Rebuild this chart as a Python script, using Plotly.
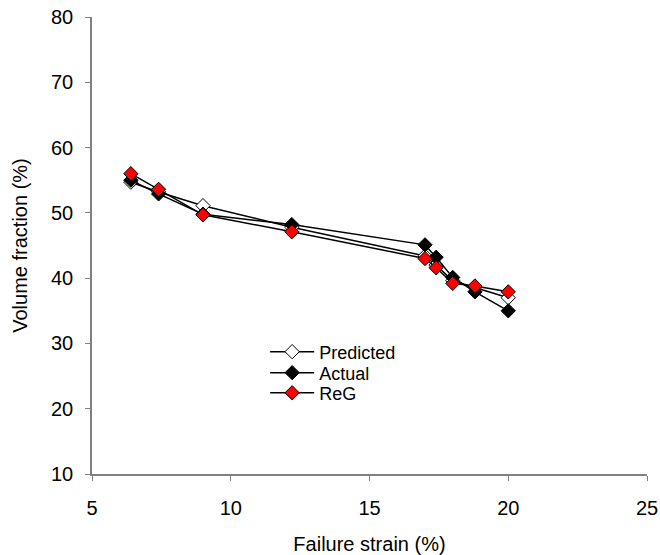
import plotly.graph_objects as go

strain = [6.4, 7.4, 9.0, 12.2, 17.0, 17.4, 18.0, 18.8, 20.0]
predicted = [54.7, 53.2, 51.1, 47.8, 43.4, 42.0, 39.6, 38.6, 37.0]
actual = [55.0, 52.9, 49.8, 48.2, 45.1, 43.2, 40.1, 37.9, 35.0]
reg = [56.0, 53.6, 49.7, 47.1, 43.0, 41.6, 39.2, 38.8, 37.9]

series = [
    ("Predicted", predicted, "white", "legend", 0.267),
    ("Actual", actual, "black", "legend2", 0.221),
    ("ReG", reg, "red", "legend3", 0.177),
]

font = "Liberation Sans, Arial"

fig = go.Figure()
legends = {}
for name, vals, color, leg, ly in series:
    fig.add_trace(go.Scatter(
        x=strain, y=vals, name=name, mode="lines+markers",
        legend=leg,
        line=dict(color="black", width=1.5),
        marker=dict(symbol="diamond", size=11, color=color,
                    line=dict(color="black", width=1)),
    ))
    legends[leg] = dict(x=0.312, y=ly, xanchor="left", yanchor="middle",
                        bgcolor="rgba(0,0,0,0)", borderwidth=0,
                        font=dict(family=font, size=18, color="black"),
                        itemwidth=44)

axis_common = dict(
    showgrid=False, zeroline=False, showline=True, linecolor="#808080",
    linewidth=1.5, ticks="outside", ticklen=5, tickcolor="#808080",
    tickfont=dict(family=font, size=20, color="black"),
    mirror=False, automargin=False, ticklabeloverflow="allow",
)
fig.update_xaxes(range=[5, 25], dtick=5, ticklabelstandoff=10, **axis_common,
                 title=dict(text="Failure strain (%)", standoff=20,
                            font=dict(family=font, size=20, color="black")))
fig.update_yaxes(range=[10, 80], dtick=10, ticklabelstandoff=8, **axis_common,
                 title=dict(text="Volume fraction (%)", standoff=18,
                            font=dict(family=font, size=20, color="black")))

fig.update_layout(
    width=660, height=555,
    margin=dict(l=92, r=13, t=17, b=81),
    paper_bgcolor="white", plot_bgcolor="white",
    showlegend=True,
    **legends,
)
fig.write_html("out.html", config={"displayModeBar": False},
               post_script="document.body.style.margin='0';")
